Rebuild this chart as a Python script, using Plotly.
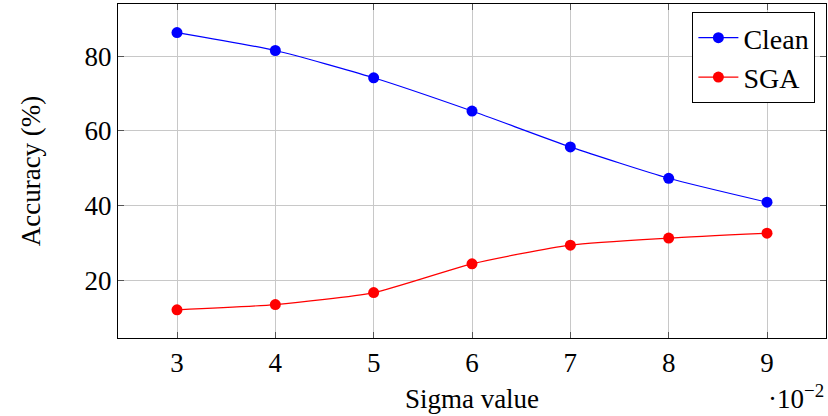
import plotly.graph_objects as go

sigma = [3, 4, 5, 6, 7, 8, 9]
clean = [86.3, 81.5, 74.2, 65.3, 55.7, 47.3, 40.9]
sga = [12.1, 13.5, 16.7, 24.4, 29.4, 31.3, 32.6]
x_ticks = [3, 4, 5, 6, 7, 8, 9]
y_ticks = [20, 40, 60, 80]

FONT = "Liberation Serif"
FS = 27

fig = go.Figure()
fig.add_trace(go.Scatter(x=sigma, y=clean, name="Clean", mode="lines+markers",
                         line=dict(color="#0000ff", width=1.2, shape="spline", smoothing=0.6),
                         marker=dict(color="#0000ff", size=11, symbol="circle")))
fig.add_trace(go.Scatter(x=sigma, y=sga, name="SGA", mode="lines+markers",
                         line=dict(color="#ff0000", width=1.2, shape="spline", smoothing=0.6),
                         marker=dict(color="#ff0000", size=11, symbol="circle")))

axis_common = dict(showline=True, linecolor="black", linewidth=1.2, mirror="allticks",
                   ticks="inside", ticklen=6, tickcolor="#555555", tickwidth=1,
                   showgrid=True, gridcolor="#c8c8c8", gridwidth=1, zeroline=False,
                   tickfont=dict(family=FONT, size=FS, color="black"))

fig.update_xaxes(range=[2.4, 9.6], tickvals=x_ticks, ticktext=[str(v) for v in x_ticks],
                 title=dict(text="Sigma value", font=dict(family=FONT, size=FS, color="black"), standoff=12),
                 **axis_common)
fig.update_yaxes(range=[4.55, 93.95], tickvals=y_ticks, ticktext=[str(v) for v in y_ticks],
                 title=dict(text="Accuracy (%)", font=dict(family=FONT, size=FS, color="black"), standoff=36),
                 **axis_common)

fig.add_annotation(x=1.0, y=-0.235, xref="paper", yref="paper", xanchor="right", yanchor="bottom",
                   text="·10<sup>−2</sup>", showarrow=False,
                   font=dict(family=FONT, size=FS, color="black"))

fig.update_layout(width=828, height=416, margin=dict(l=118, r=2, t=4, b=78),
                  plot_bgcolor="white", paper_bgcolor="white",
                  font=dict(family=FONT, size=FS, color="black"),
                  legend=dict(x=0.985, y=0.976, xanchor="right", yanchor="top",
                              bordercolor="black", borderwidth=1, bgcolor="white",
                              font=dict(family=FONT, size=28, color="black"),
                              tracegroupgap=0, itemwidth=40))

fig.write_html("out.html")
